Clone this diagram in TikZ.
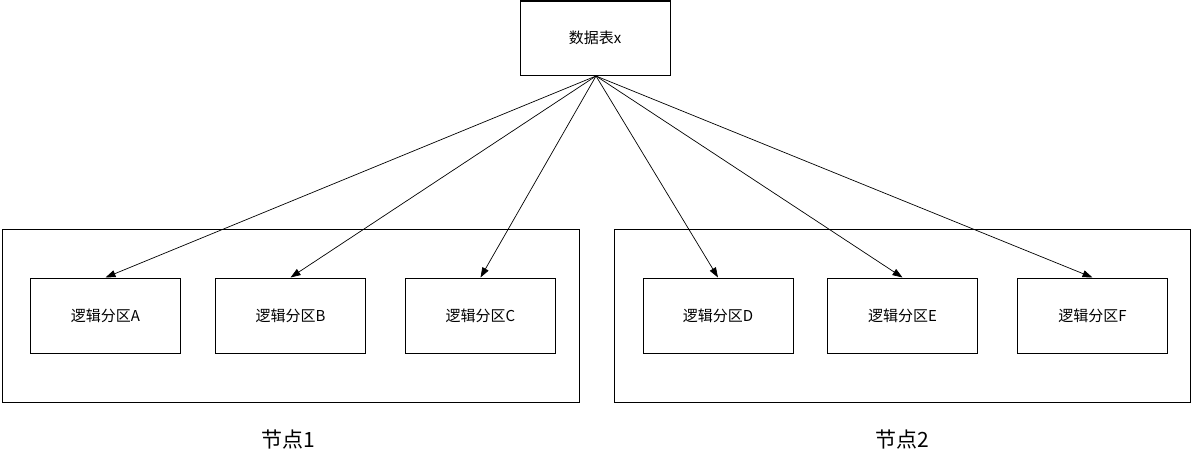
\documentclass[tikz,border=0pt]{standalone}
\usepackage{fontspec}
\setmainfont{Noto Sans CJK SC}
\usetikzlibrary{arrows.meta}
\begin{document}
\begin{tikzpicture}[x=1pt,y=-1pt,
  box/.style={draw,line width=1pt,minimum width=150pt,minimum height=75pt,inner sep=0pt,font=\fontsize{15}{17}\selectfont},
  group/.style={draw,line width=1pt,minimum width=577pt,minimum height=173pt,inner sep=0pt},
  lbl/.style={font=\fontsize{21}{23}\selectfont},
  link/.style={line width=0.7pt,-{Triangle[length=10pt,width=7pt]}}]
\useasboundingbox (0,0) rectangle (1193,463);
\node[box,minimum height=74pt] (x) at (595,38) {数据表x};
\node[group] (g1) at (290.5,315.5) {};
\node[group,minimum width=576pt] (g2) at (902,315.5) {};
\node[box] (a) at (105.5,315.5) {逻辑分区A};
\node[box] (b) at (290.5,315.5) {逻辑分区B};
\node[box] (c) at (480.5,315.5) {逻辑分区C};
\node[box] (d) at (718,315.5) {逻辑分区D};
\node[box] (e) at (902.5,315.5) {逻辑分区E};
\node[box] (f) at (1092.5,315.5) {逻辑分区F};
\coordinate (o) at (596,76);
\foreach \t in {a,b,c,d,e,f} \draw[link] (o) -- (\t.north);
\node[lbl] (l1) at (288,440) {节点1};
\node[lbl] (l2) at (902,440) {节点2};
\end{tikzpicture}
\end{document}
